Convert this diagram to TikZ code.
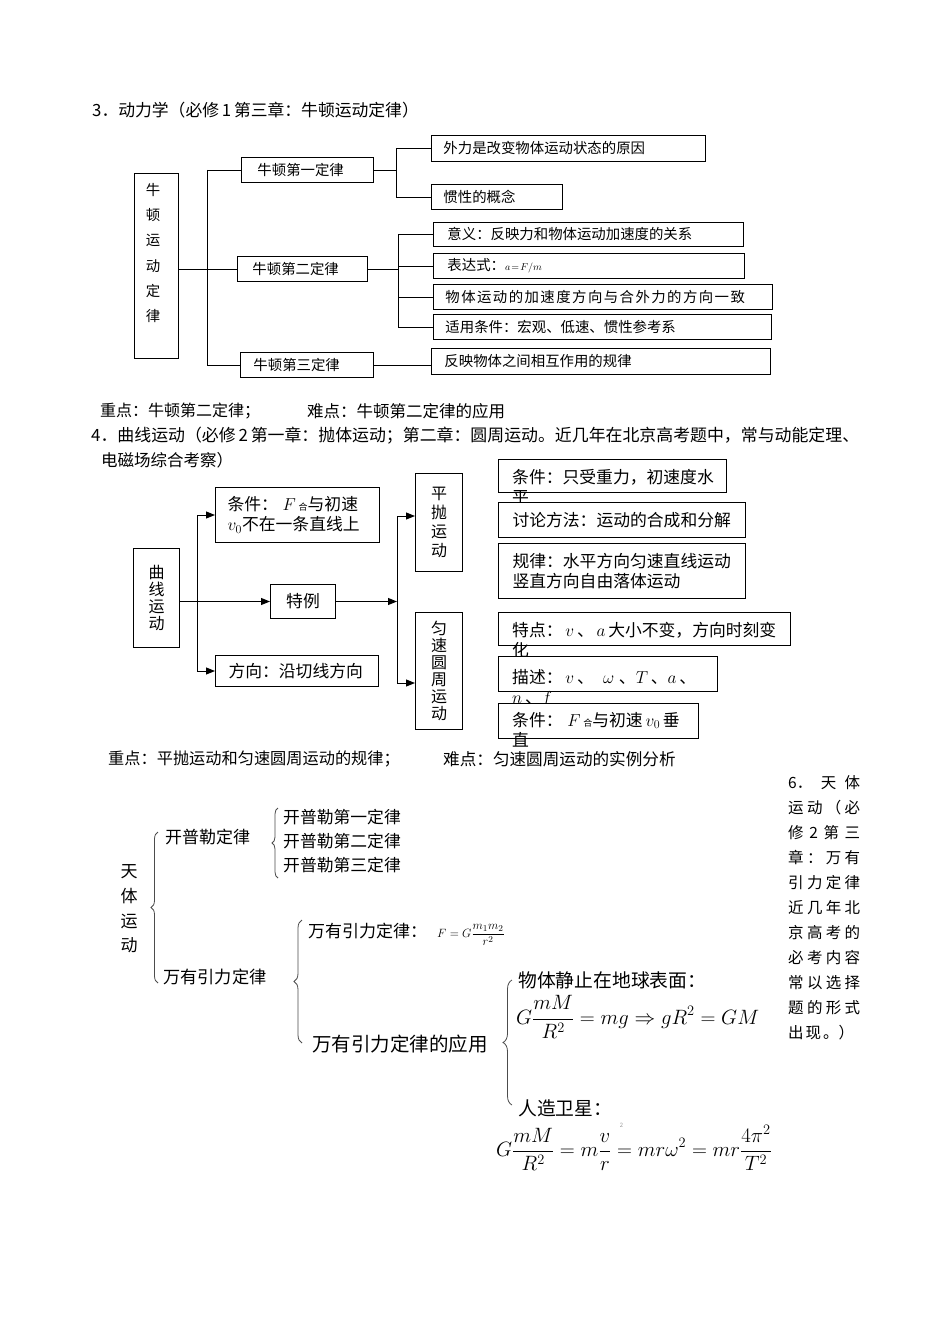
\documentclass[tikz,border=0pt]{standalone}
\usepackage{fontspec}
\setmainfont{Noto Sans CJK SC}
\newfontfamily\cjkwide[LetterSpace=10]{Noto Sans CJK SC}
\usetikzlibrary{arrows.meta,decorations.pathreplacing}
\newcommand{\myfs}[2]{\fontsize{#1}{#2}\selectfont}
\begin{document}
\begin{tikzpicture}[x=1pt,y=-1pt,
  l3/.style={line width=0.9pt},
  b3/.style={draw, line width=0.9pt, fill=white, inner ysep=0pt, align=left, anchor=north west, font=\myfs{14.4}{16}},
  l4/.style={line width=1pt},
  a4/.style={l4, -{Triangle[length=9pt,width=7pt]}},
  b4/.style={draw, line width=1pt, fill=white, inner ysep=0pt, align=left, anchor=north west, font=\myfs{16.8}{20}},
  e4/.style={draw, line width=1pt, fill=white, inner sep=0pt, anchor=north west},
  c4/.style={draw, line width=1pt, fill=white, inner sep=0pt, align=center, anchor=north west},
  t/.style={inner sep=0pt, anchor=west},
  tb/.style={inner sep=0pt, anchor=base west, align=left, font=\myfs{16.8}{20}},
  br/.style={decorate, decoration={brace, amplitude=#1}, line width=0.8pt, draw=black!70},
]
\fill[white] (0,0) rectangle (950,1344);
\useasboundingbox (0,0) rectangle (950,1344);

% ---------- Section 3 ----------
\node[t, font=\myfs{16.8}{18}] (h3) at (92,110) {3．动力学（必修\,1\,第三章：牛顿运动定律）};

\node[draw, l3, minimum width=44, minimum height=185, anchor=north west, inner sep=0pt] (main) at (134,173) {};
\node[font=\myfs{14.4}{25.2}, align=center, inner sep=0pt] (mainlbl) at (153,253) {牛\\顿\\运\\动\\定\\律};

\node[b3, minimum height=25, text width=100, inner xsep=16] (n1) at (241,157) {牛顿第一定律};
\node[b3, minimum height=25, text width=100, inner xsep=15] (n2) at (237,256) {牛顿第二定律};
\node[b3, minimum height=25, text width=107, inner xsep=13] (n3) at (240,352) {牛顿第三定律};

\node[b3, minimum height=26, text width=250, inner xsep=12] (nA) at (431,135) {外力是改变物体运动状态的原因};
\node[b3, minimum height=25, text width=107, inner xsep=12] (nB) at (431,184) {惯性的概念};
\node[b3, minimum height=24, text width=282, inner xsep=14] (nC) at (433,222) {意义：反映力和物体运动加速度的关系};
\node[b3, minimum height=25, text width=283, inner xsep=14] (nD) at (433,253) {表达式：{\myfs{10}{10}$a\!=\!F/m$}};
\node[b3, minimum height=25, text width=315, inner xsep=12] (nE) at (433,284) {{\cjkwide 物体运动的加速度方向与合外力的方向一致}};
\node[b3, minimum height=25, text width=314, inner xsep=12] (nF) at (433,314) {适用条件：宏观、低速、惯性参考系};
\node[b3, minimum height=26, text width=313, inner xsep=13] (nG) at (431,348) {反映物体之间相互作用的规律};

\coordinate (bus1) at (207,170);
\draw[l3] (main.east |- n2.west) -- (n2.west);
\draw[l3] (bus1 |- n1.west) -- (n1.west);
\draw[l3] (bus1 |- n1.west) -- (bus1 |- n3.west) -- (n3.west);

\coordinate (bus2) at (396,170);
\draw[l3] (n1.east) -- (bus2 |- n1.east);
\draw[l3] (bus2 |- nA.west) -- (nA.west);
\draw[l3] (bus2 |- nA.west) -- (bus2 |- nB.west) -- (nB.west);

\coordinate (bus3) at (398,268);
\draw[l3] (n2.east) -- (bus3 |- n2.east);
\draw[l3] (bus3 |- nC.west) -- (nC.west);
\draw[l3] (bus3 |- nD.west) -- (nD.west);
\draw[l3] (bus3 |- nE.west) -- (nE.west);
\draw[l3] (bus3 |- nC.west) -- (bus3 |- nF.west) -- (nF.west);
\draw[l3] (n3.east) -- (n3.east -| nG.west);

\node[t, font=\myfs{16}{18}] (zd3) at (100,411) {重点：牛顿第二定律；};
\node[t, font=\myfs{16.5}{18}] (nd3) at (307,411) {难点：牛顿第二定律的应用};

% ---------- Section 4 ----------
\node[t, font=\myfs{16.9}{18}] (h4) at (91,436) {4．曲线运动（必修\,2\,第一章：抛体运动；第二章：圆周运动。近几年在北京高考题中，常与动能定理、};
\node[t, font=\myfs{16.5}{18}] (h4b) at (101,460) {电磁场综合考察）};

\node[c4, minimum width=46, minimum height=99, font=\myfs{16}{17}] (qx) at (133,548) {曲\\线\\运\\动};
\node[b4, minimum height=55, text width=140, inner xsep=12] (c1) at (215,487) {条件：\;$F$\,{\myfs{9}{9}合}与初速\\$v_0$不在一条直线上};
\node[c4, minimum width=65, minimum height=34, font=\myfs{16.8}{20}] (te) at (270,584) {特例};
\node[b4, minimum height=31, text width=137, inner xsep=13] (fx) at (215,655) {方向：沿切线方向};
\node[c4, minimum width=47, minimum height=98, font=\myfs{16}{19}] (pp) at (415,473) {平\\抛\\运\\动};
\node[c4, minimum width=47, minimum height=117, font=\myfs{16}{17}] (yz) at (415,612) {匀\\速\\圆\\周\\运\\动};

\coordinate (bA) at (197,515);
\draw[a4] (qx.east |- te.west) -- (te.west);
\draw[l4] (bA |- c1.west) -- (bA |- fx.west);
\draw[a4] (bA |- c1.west) -- (c1.west);
\draw[a4] (bA |- fx.west) -- (fx.west);

\coordinate (bB) at (397,599);
\coordinate (pt1) at (397,516);
\coordinate (pt2) at (397,683);
\draw[a4] (te.east) -- (bB |- te.east);
\draw[l4] (pt1) -- (pt2);
\draw[a4] (pt1) -- (pt1 -| pp.west);
\draw[a4] (pt2) -- (pt2 -| yz.west);

% right column boxes
\node[e4, minimum width=228, minimum height=33] (r1) at (498,459) {};
\node[tb] (r1t) at (512,503) {条件：只受重力，初速度水\\平};
\node[b4, minimum height=35, text width=219, inner xsep=14] (r2) at (498,502) {讨论方法：运动的合成和分解};
\node[b4, minimum height=55, text width=219, inner xsep=14] (r3) at (498,543) {规律：水平方向匀速直线运动\\竖直方向自由落体运动};
\node[e4, minimum width=292, minimum height=33] (r4) at (498,612) {};
\node[tb] (r4t) at (512,656) {特点：\,$v$\,、\,$a$\,大小不变，方向时刻变\\化};
\node[e4, minimum width=219, minimum height=35] (r5) at (498,656) {};
\node[tb] (r5t) at (512,703) {描述：\,$v$\,、\;\;$\omega$\;、$T$\,、$a$\,、\\$n$\,、$f$};
\node[e4, minimum width=200, minimum height=35] (r6) at (498,703) {};
\node[tb] (r6t) at (512,746) {条件：\;$F$\,{\myfs{9}{9}合}与初速\,$v_0$\,垂\\直};

\node[t, font=\myfs{16.2}{18}] (zd4) at (108,759) {重点：平抛运动和匀速圆周运动的规律；};
\node[t, font=\myfs{16.6}{18}] (nd4) at (443,759) {难点：匀速圆周运动的实例分析};

% ---------- Section 6 ----------
\node[font=\myfs{17}{24.7}, align=center, inner sep=0pt] (tt) at (129,909) {天\\体\\运\\动};
\node[t, font=\myfs{17}{20}] (kp) at (165,837) {开普勒定律};
\node[t, font=\myfs{17.2}{20}] (wy) at (163,977) {万有引力定律};
\node[t, font=\myfs{16.8}{24}, align=left] (k123) at (283,841) {开普勒第一定律\\开普勒第二定律\\开普勒第三定律};
\node[t, font=\myfs{17}{20}] (wyl) at (308,931) {万有引力定律：};
\node[t, font=\myfs{13.2}{14}] (fF) at (437,935) {$F=G\displaystyle\frac{m_1m_2}{r^2}$};
\node[t, font=\myfs{19.5}{22}] (yy) at (312,1044) {万有引力定律的应用};
\node[t, font=\myfs{18.8}{20}] (jz) at (518,980) {物体静止在地球表面：};
\node[t, font=\myfs{20}{22}] (f1) at (516,1017) {$\displaystyle G\frac{mM}{R^2}=mg\Rightarrow gR^2=GM$};
\node[t, font=\myfs{18.8}{20}] (rz) at (518,1108) {人造卫星：};
\node[t, font=\myfs{19.2}{22}] (f2) at (496,1147) {$\displaystyle G\frac{mM}{R^2}=m\frac{v\rlap{\kern0.5em\raisebox{1.4ex}{\color{black!40}\myfs{6}{6}2}}}{r}=mr\omega^2=mr\frac{4\pi^2}{T^2}$};

\coordinate (b1s) at (158,983); \coordinate (b1e) at (158,832);
\coordinate (b2s) at (278,878); \coordinate (b2e) at (278,808);
\coordinate (b3s) at (302,1043); \coordinate (b3e) at (302,920);
\coordinate (b4s) at (512,1105); \coordinate (b4e) at (512,980);
\draw[br=7pt] (b1s) -- (b1e);
\draw[br=6pt] (b2s) -- (b2e);
\draw[br=8pt] (b3s) -- (b3e);
\draw[br=9pt] (b4s) -- (b4e);

\foreach \s [count=\i from 0] in {{6．\hfill 天\hfill 体},{运\hfill 动\hfill （\hfill 必},{修\hfill 2\hfill 第\hfill 三},{章\hfill ：\hfill 万\hfill 有},{引\hfill 力\hfill 定\hfill 律},{近\hfill 几\hfill 年\hfill 北},{京\hfill 高\hfill 考\hfill 的},{必\hfill 考\hfill 内\hfill 容},{常\hfill 以\hfill 选\hfill 择},{题\hfill 的\hfill 形\hfill 式},{出\kern2pt 现\kern2pt 。）\hfill}}
  \node[t, font=\myfs{15.5}{18}] (side\i) at (788,{783+25*\i}) {\makebox[72pt][l]{\s}};
\end{tikzpicture}
\end{document}
